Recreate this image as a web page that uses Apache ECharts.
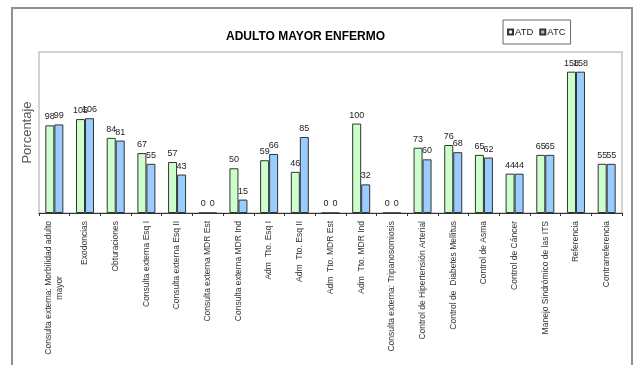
<!DOCTYPE html>
<html>
<head>
<meta charset="utf-8">
<script src="https://cdn.jsdelivr.net/npm/echarts@6/dist/echarts.min.js"></script>
<style>html,body{margin:0;padding:0;background:#fff;}#c{width:638px;height:365px;}</style>
</head>
<body>
<div id="c"></div>
<script>
const categories = [
  'Consulta externa: Morbilidad adulto\nmayor',
  'Exodoncias',
  'Obturaciones',
  'Consulta externa Esq I',
  'Consulta externa Esq II',
  'Consulta externa MDR Est',
  'Consulta externa MDR Ind',
  'Adm  Tto. Esq I',
  'Adm  Tto. Esq II',
  'Adm  Tto. MDR Est',
  'Adm  Tto. MDR Ind',
  'Consulta externa: Tripanosomiosis',
  'Control de Hipertensión Arterial',
  'Control de  Diabetes Mellitus',
  'Control de Asma',
  'Control de Cáncer',
  'Manejo Sindrómico de las ITS',
  'Referencia',
  'Contrarreferencia'
];
const atd = [98, 105, 84, 67, 57, 0, 50, 59, 46, 0, 100, 0, 73, 76, 65, 44, 65, 158, 55];
const atc = [99, 106, 81, 55, 43, 0, 15, 66, 85, 0, 32, 0, 60, 68, 62, 44, 65, 158, 55];
const seriesNames = ['ATD', 'ATC'];

const chart = echarts.init(document.getElementById('c'));
const sans = '"Liberation Sans", Arial, sans-serif';
const labelStyle = {
  show: true, position: 'top', distance: 4,
  fontFamily: sans, fontSize: 9, color: '#222'
};
chart.setOption({
  animation: false,
  backgroundColor: '#fff',
  title: {
    text: 'ADULTO MAYOR ENFERMO',
    left: 221, top: 26,
    textStyle: { fontFamily: sans, fontWeight: 'bold', fontSize: 12, color: '#000' }
  },
  legend: {
    left: 503, top: 20,
    padding: [7, 5, 7, 4],
    borderColor: '#666', borderWidth: 1,
    itemWidth: 5, itemHeight: 5, itemGap: 6,
    icon: 'rect',
    textStyle: { fontFamily: sans, fontSize: 9.5, color: '#222', padding: [0, 0, 0, -3] },
    data: seriesNames
  },
  graphic: [{
    type: 'rect', silent: true, z: -1,
    shape: { x: 12, y: 8, width: 620, height: 400 },
    style: { fill: 'none', stroke: '#909090', lineWidth: 2 }
  }],
  grid: {
    left: 39, top: 52, right: 16, bottom: 152,
    show: true, borderColor: '#c4c4c4', borderWidth: 1.5, backgroundColor: 'transparent'
  },
  xAxis: {
    type: 'category',
    data: categories,
    axisLine: { lineStyle: { color: '#333', width: 1 } },
    axisTick: { show: true, length: 3, lineStyle: { color: '#333' } },
    axisLabel: {
      interval: 0, rotate: 90, margin: 8,
      fontFamily: sans, fontSize: 8.5, color: '#333',
      lineHeight: 11,
      formatter: function (v) {
        return v.split('\n').map(s => '{c|' + s + '}').join('\n');
      },
      rich: { c: { align: 'center', fontFamily: sans, fontSize: 8.5, color: '#333', lineHeight: 11 } }
    }
  },
  yAxis: {
    type: 'value', min: 0, max: 180, interval: 20,
    name: 'Porcentaje', nameLocation: 'middle', nameGap: 5, nameRotate: 90,
    nameTextStyle: { fontFamily: sans, fontSize: 13, color: '#595959' },
    axisLine: { show: false }, axisTick: { show: false },
    axisLabel: { show: false }, splitLine: { show: false }
  },
  series: [
    {
      name: seriesNames[0], type: 'bar', data: atd,
      barWidth: 9, barGap: '0%',
      itemStyle: { color: '#ccffcc', borderColor: '#333', borderWidth: 1 },
      label: labelStyle
    },
    {
      name: seriesNames[1], type: 'bar', data: atc,
      barWidth: 9, barGap: '0%',
      itemStyle: { color: '#99ccff', borderColor: '#333', borderWidth: 1 },
      label: labelStyle
    }
  ]
});
</script>
</body>
</html>
